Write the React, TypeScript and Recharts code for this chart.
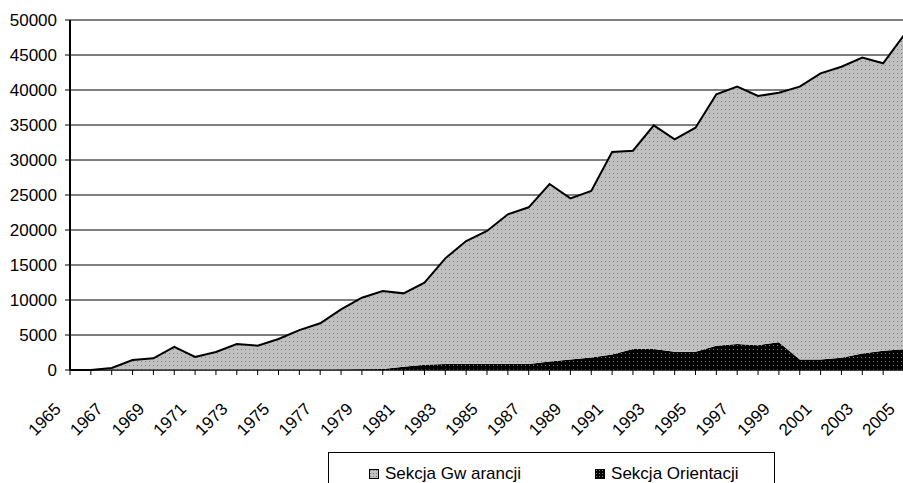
import { Area, AreaChart, CartesianGrid, Legend, XAxis, YAxis } from "recharts";

const years = [
  "1965", "1966", "1967", "1968", "1969", "1970", "1971", "1972", "1973", "1974",
  "1975", "1976", "1977", "1978", "1979", "1980", "1981", "1982", "1983", "1984",
  "1985", "1986", "1987", "1988", "1989", "1990", "1991", "1992", "1993", "1994",
  "1995", "1996", "1997", "1998", "1999", "2000", "2001", "2002", "2003", "2004",
  "2005",
];

// Sekcja Gwarancji (upper layer)
const gwarancji = [
  0, 0, 300, 1430, 1670, 3290, 1860, 2570, 3710, 3480,
  4430, 5700, 6670, 8620, 10230, 11140, 10500, 11720, 15100, 17580,
  19010, 21390, 22390, 25370, 23020, 23770, 28940, 28330, 31950, 30350,
  32020, 35930, 36780, 35590, 35670, 38980, 40880, 41580, 42270, 41060,
  44910,
];

// Sekcja Orientacji (bottom layer)
const orientacji = [
  0, 0, 0, 0, 0, 0, 0, 0, 0, 0,
  0, 0, 0, 50, 100, 150, 450, 750, 850, 850,
  850, 850, 850, 1200, 1500, 1800, 2200, 3000, 3000, 2600,
  2600, 3450, 3700, 3550, 3950, 1500, 1500, 1750, 2350, 2750,
  2950,
];

const yTicks = [0, 5000, 10000, 15000, 20000, 25000, 30000, 35000, 40000, 45000, 50000];
const labelYears = years.filter((y) => Number(y) % 2 === 1);

const data = years.map((year, i) => ({
  year,
  gwarancji: gwarancji[i],
  orientacji: orientacji[i],
}));

const FONT = "'Liberation Sans', Arial, sans-serif";

function YearTick({ x, y, payload }: { x?: number; y?: number; payload?: { value: string } }) {
  if (!payload || !labelYears.includes(String(payload.value))) return null;
  const ax = (x ?? 0) - 8;
  const ay = (y ?? 0) + 33;
  return (
    <text
      x={ax}
      y={ay}
      transform={`rotate(-45 ${ax} ${ay})`}
      textAnchor="end"
      fontSize={17}
      fontFamily={FONT}
      fill="#000"
    >
      {payload.value}
    </text>
  );
}

function Swatch({ dark }: { dark: boolean }) {
  const id = dark ? "lg-or" : "lg-gw";
  return (
    <svg width={10} height={10} style={{ display: "block" }}>
      <defs>
        <pattern id={id} width={3} height={3} patternUnits="userSpaceOnUse">
          <rect width={3} height={3} fill={dark ? "#000" : "#c0c0c0"} />
          <rect x={1} y={1} width={1} height={1} fill="#808080" />
        </pattern>
      </defs>
      <rect x={0.5} y={0.5} width={9} height={9} fill={`url(#${id})`} stroke="#000" />
    </svg>
  );
}

function ChartLegend() {
  const item = (label: string, dark: boolean, mr: number) => (
    <div style={{ display: "flex", alignItems: "center", marginRight: mr }}>
      <Swatch dark={dark} />
      <span style={{ marginLeft: 6 }}>{label}</span>
    </div>
  );
  return (
    <div
      style={{
        boxSizing: "border-box",
        width: 447,
        height: 44,
        border: "1px solid #000",
        display: "flex",
        alignItems: "flex-start",
        paddingLeft: 40,
        paddingTop: 11,
        fontFamily: FONT,
        fontSize: 17,
        lineHeight: "20px",
        color: "#000",
        background: "#fff",
      }}
    >
      {item("Sekcja Gw arancji", false, 74)}
      {item("Sekcja Orientacji", true, 0)}
    </div>
  );
}

export default function App() {
  return (
    <div style={{ position: "absolute", left: 0, top: 0 }}>
      <AreaChart
        width={904}
        height={483}
        data={data}
        margin={{ top: 20, right: 0, bottom: 0, left: 0 }}
      >
        <defs>
          <pattern id="gwFill" width={4} height={4} patternUnits="userSpaceOnUse">
            <rect width={4} height={4} fill="#c0c0c0" />
            <rect x={1} y={1} width={1} height={1} fill="#808080" />
          </pattern>
          <pattern id="orFill" width={4} height={4} patternUnits="userSpaceOnUse">
            <rect width={4} height={4} fill="#000" />
            <rect x={1} y={1} width={1} height={1} fill="#808080" />
          </pattern>
        </defs>
        <CartesianGrid vertical={false} stroke="#000" />
        <XAxis
          dataKey="year"
          interval={0}
          height={113}
          tickSize={5}
          axisLine={{ stroke: "#000" }}
          tickLine={{ stroke: "#000" }}
          tick={<YearTick />}
        />
        <YAxis
          width={70}
          domain={[0, 50000]}
          ticks={yTicks}
          tickSize={5}
          tickMargin={8}
          axisLine={{ stroke: "#000", strokeWidth: 2 }}
          tickLine={{ stroke: "#000" }}
          tick={{ fontSize: 17, fontFamily: FONT, fill: "#000" }}
        />
        <Area
          type="linear"
          dataKey="orientacji"
          stackId="1"
          stroke="none"
          fill="url(#orFill)"
          fillOpacity={1}
          isAnimationActive={false}
        />
        <Area
          type="linear"
          dataKey="gwarancji"
          stackId="1"
          stroke="#000"
          strokeWidth={2}
          fill="url(#gwFill)"
          fillOpacity={1}
          isAnimationActive={false}
        />
        <Legend
          layout="horizontal"
          align="center"
          verticalAlign="middle"
          wrapperStyle={{ left: 328, top: 452, width: 447 }}
          content={<ChartLegend />}
        />
      </AreaChart>
    </div>
  );
}
